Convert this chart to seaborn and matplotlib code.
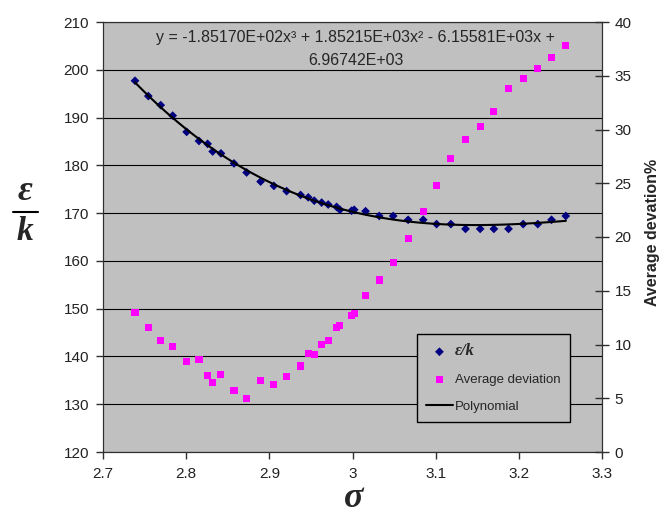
import numpy as np
import pandas as pd
import seaborn as sns
import matplotlib.pyplot as plt
from matplotlib.lines import Line2D

# values
sigma = [2.7385, 2.7545, 2.7694, 2.7838, 2.8006, 2.8154, 2.8258, 2.8319, 2.8418, 2.8575,
         2.8727, 2.8895, 2.9055, 2.9208, 2.9376, 2.9468, 2.9540, 2.9629, 2.9708, 2.9809,
         2.9849, 2.9989, 3.0020, 3.0157, 3.0321, 3.0489, 3.0669, 3.0850, 3.1011, 3.1183,
         3.1359, 3.1535, 3.1700, 3.1876, 3.2052, 3.2228, 3.2393, 3.2565]
eps_k = [197.7, 194.5, 192.6, 190.4, 187.0, 185.1, 184.5, 182.9, 182.5, 180.4,
         178.5, 176.6, 175.7, 174.6, 173.8, 173.3, 172.6, 172.2, 171.8, 171.3,
         170.7, 170.5, 170.7, 170.4, 169.4, 169.4, 168.6, 168.6, 167.7, 167.7,
         166.7, 166.7, 166.7, 166.7, 167.7, 167.7, 168.6, 169.4]
avg_dev = [13.0, 11.6, 10.35, 9.8, 8.4, 8.6, 7.1, 6.45, 7.25, 5.7,
           5.0, 6.65, 6.3, 7.0, 8.0, 9.2, 9.1, 10.0, 10.35, 11.6,
           11.8, 12.7, 12.9, 14.6, 16.0, 17.65, 19.9, 22.4, 24.75, 27.3,
           29.1, 30.3, 31.65, 33.8, 34.75, 35.65, 36.7, 37.8]

eq_line1 = 'y = -1.85170E+02x³ + 1.85215E+03x² - 6.15581E+03x +'
eq_line2 = '6.96742E+03'

left_ticks = [120, 130, 140, 150, 160, 170, 180, 190, 200, 210]
right_ticks = [0, 5, 10, 15, 20, 25, 30, 35, 40]
x_ticks = [2.7, 2.8, 2.9, 3.0, 3.1, 3.2, 3.3]
x_ticklabels = ['2.7', '2.8', '2.9', '3', '3.1', '3.2', '3.3']

sns.set_style('white', {'axes.facecolor': '#c0c0c0', 'axes.edgecolor': '#303030'})
plt.rcParams['font.family'] = ['Liberation Sans', 'DejaVu Sans']

df = pd.DataFrame({'sigma': sigma, 'eps_k': eps_k, 'avg_dev': avg_dev})

W, H = 660, 515
fig = plt.figure(figsize=(6.6, 5.15), dpi=100)
ax = fig.add_axes([103 / W, 63 / H, 499 / W, 430 / H])
ax2 = ax.twinx()

sns.scatterplot(data=df, x='sigma', y='eps_k', marker='D', color='#000080', s=20,
                edgecolor='none', ax=ax, label='ε/k', zorder=3)
sns.regplot(data=df, x='sigma', y='eps_k', order=3, ci=None, scatter=False, ax=ax,
            line_kws=dict(color='black', lw=1.5, zorder=4))
poly_line = ax.lines[-1]
poly_line.set_label('Polynomial')
sns.scatterplot(data=df, x='sigma', y='avg_dev', marker='s', color='#ff00ff', s=26,
                edgecolor='none', ax=ax2, label='Average deviation', zorder=3)

for a in (ax, ax2):
    if a.get_legend() is not None:
        a.get_legend().remove()
    a.set_xlabel('')
    a.set_ylabel('')

ax.set_xlim(2.7, 3.3)
ax.set_xticks(x_ticks, x_ticklabels)
ax.set_ylim(120, 210)
ax.set_yticks(left_ticks)
ax2.set_ylim(0, 40)
ax2.set_yticks(right_ticks)

ax.yaxis.grid(True, color='black', lw=0.8)
ax.set_axisbelow(True)

ax.tick_params(axis='y', left=True, direction='out', length=5, width=1,
               labelsize=11, pad=5, color='#303030', labelcolor='#222222')
ax.tick_params(axis='x', bottom=True, direction='out', length=5, width=1,
               labelsize=11, pad=6, color='#303030', labelcolor='#222222')
ax2.tick_params(axis='y', right=True, direction='inout', length=10, width=1,
                labelsize=11, pad=4, color='#303030', labelcolor='#222222')

# trendline equation
fig.text(355 / W, 1 - 42 / H, eq_line1, ha='center', va='baseline', fontsize=11.5)
fig.text(356 / W, 1 - 65 / H, eq_line2, ha='center', va='baseline', fontsize=11.5)

# left label as a fraction eps over k
fig.text(25 / W, 1 - 200 / H, 'ε', family='Liberation Serif', style='italic',
         weight='bold', fontsize=26, ha='center', va='baseline')
fig.add_artist(Line2D([13 / W, 38 / W], [1 - 212 / H, 1 - 212 / H],
                      color='black', lw=1.5, transform=fig.transFigure))
fig.text(25 / W, 1 - 240 / H, 'k', family='Liberation Serif', style='italic',
         weight='bold', fontsize=24, ha='center', va='baseline')

fig.text(354 / W, 1 - 507 / H, 'σ', family='Liberation Serif', style='italic',
         weight='bold', fontsize=26, ha='center', va='baseline')

fig.text(652 / W, 1 - 232 / H, 'Average devation%', rotation=90, weight='bold',
         fontsize=11.5, ha='center', va='center')

h1, l1 = ax.get_legend_handles_labels()
h2, l2 = ax2.get_legend_handles_labels()
hd = dict(zip(l1 + l2, h1 + h2))
order = ['ε/k', 'Average deviation', 'Polynomial']
leg = ax2.legend([hd[k] for k in order], order, loc='upper left',
                 bbox_to_anchor=(417 / W, 1 - 334 / H), bbox_transform=fig.transFigure,
                 frameon=True, fancybox=False, edgecolor='black', framealpha=1,
                 fontsize=9.5, borderpad=0.7, labelspacing=1.1, handlelength=2,
                 handletextpad=0.2, borderaxespad=0)
leg.get_frame().set_linewidth(1)
t0 = leg.get_texts()[0]
t0.set_fontfamily('Liberation Serif')
t0.set_fontstyle('italic')
t0.set_fontweight('bold')
t0.set_fontsize(12)

fig.savefig('out.png', dpi=100)
